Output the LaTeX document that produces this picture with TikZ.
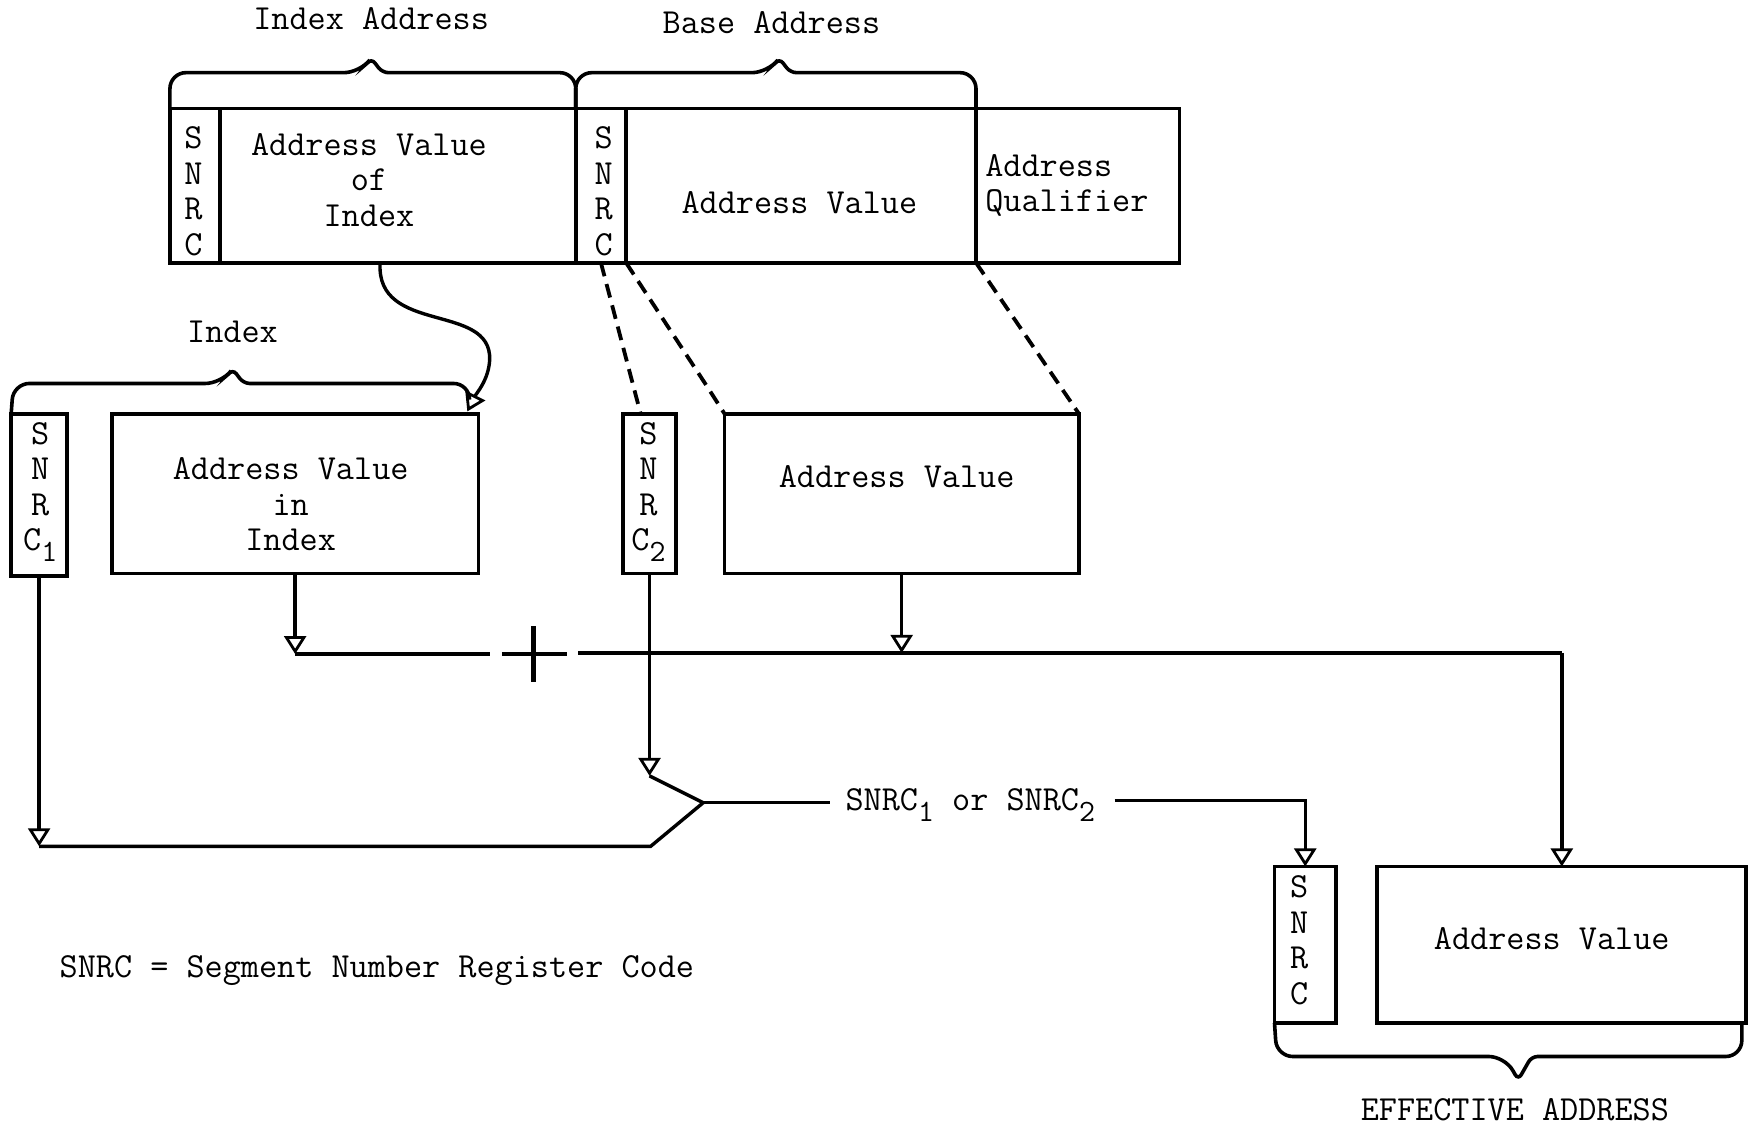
\documentclass[tikz,border=0pt]{standalone}
\usetikzlibrary{fit,arrows.meta}
\newcommand\sbx[1]{\raisebox{-5.5pt}{\fontsize{15.5}{15.5}\selectfont #1}}
\begin{document}
\begin{tikzpicture}[x=0.559pt,y=-0.559pt,
  box/.style={draw,line width=1.9pt,inner sep=0pt,outer sep=0pt},
  txt/.style={font=\fontsize{17.6}{17.7}\selectfont\ttfamily,inner sep=0pt,align=center},
  conn/.style={line width=1.7pt},
  tip/.style={-{Triangle[open,width=11pt,length=9pt,line width=1.4pt]}},
  brc/.style={line width=1.8pt},
  dsh/.style={line width=1.9pt,dash pattern=on 7pt off 4pt}]
\useasboundingbox[fill=white] (0,0) rectangle (1568,1008);

% top row
\node[box,fit={(152,97)(197,235)}] (t1) {};
\node[box,fit={(197,97)(515,235)}] (t2) {};
\node[box,fit={(515,97)(560,235)}] (t3) {};
\node[box,fit={(560,97)(873,235)}] (t4) {};
\node[box,fit={(873,97)(1055,235)}] (t5) {};
\node[txt] (t1x) at (173,171) {S\\N\\R\\C};
\node[txt] (t2x) at (330,161) {Address Value\\of\\Index};
\node[txt] (t3x) at (540,171) {S\\N\\R\\C};
\node[txt] (t4x) at (715,181) {Address Value};
\node[txt,align=left,anchor=west] (t5x) at (881,166) {Address\\Qualifier};

\node[txt] (lia) at (332,17) {Index Address};
\node[txt] (lba) at (690,20) {Base Address};

% top braces
\draw[brc] (t1.north west) [rounded corners=8pt] -- (152,65) -- (322,65) [rounded corners=3pt] -- (332,52) -- (342,65) [rounded corners=8pt] -- (515,65) [sharp corners] -- (t2.north east);
\draw[brc] (t3.north west) [rounded corners=8pt] -- (515,65) -- (687,65) [rounded corners=3pt] -- (697,52) -- (707,65) [rounded corners=8pt] -- (873,65) [sharp corners] -- (t4.north east);

% second row
\node[box,fit={(10,370)(60,515)}] (s1) {};
\node[box,fit={(100,370)(428,513)}] (m1) {};
\node[box,fit={(557,370)(605,513)}] (s2) {};
\node[box,fit={(648,370)(965,513)}] (m2) {};
\node[txt] (s1x) at (36,440) {S\\N\\R\\C\sbx{1}};
\node[txt] (m1x) at (260,451) {Address Value\\in\\Index};
\node[txt] (s2x) at (580,440) {S\\N\\R\\C\sbx{2}};
\node[txt] (m2x) at (802,426) {Address Value};

\node[txt] (lix) at (208,297) {Index};
\draw[brc] (s1.north west) [rounded corners=8pt] -- (12,343) -- (198,343) [rounded corners=3pt] -- (208,330) -- (218,343) [rounded corners=8pt] -- (420,343) [sharp corners] -- (420,357);

% curved arrow from index address to index
\coordinate (cs) at (340,235);
\coordinate (ct) at (418,368);
\draw[conn,tip] (cs) .. controls (336,300) and (440,270) .. (438,322) .. controls (437,340) and (426,352) .. (ct);

% dashed projections
\coordinate (d1e) at (573,370);
\draw[dsh] (t3.south) -- (d1e);
\draw[dsh] (t3.south east) -- (632,345) -- (m2.north west);
\draw[dsh] (t4.south east) -- (m2.north east);

% effective address boxes
\node[box,fit={(1140,775)(1195,915)}] (s3) {};
\node[box,fit={(1232,775)(1562,915)}] (m3) {};
\node[txt] (s3x) at (1162,841) {S\\N\\R\\C};
\node[txt] (m3x) at (1388,840) {Address Value};

% adder
\coordinate (aL) at (264,585);
\coordinate (aLe) at (438,585);
\coordinate (aRs) at (517,584);
\coordinate (aR) at (1397,584);
\draw[conn,tip] (m1.south) -- (aL);
\draw[conn] (aL) -- (aLe);
\draw[conn] (aRs) -- (aR);
\draw[conn,tip] (m2.south) -- (m2.south |- aR);
\draw[line width=2.4pt] (449,585) -- (507,585);
\draw[line width=2.4pt] (477,560) -- (477,610);

% segment choice
\coordinate (j) at (629,718);
\coordinate (s2t) at (581,694);
\coordinate (b1) at (35,757);
\coordinate (b2) at (582,757);
\draw[conn,tip] (s2.south) -- (s2t);
\draw[conn] (s2t) -- (j);
\draw[conn,tip] (s1.south) -- (b1);
\draw[conn] (b1) -- (b2) -- (j);
\node[txt,anchor=west] (orx) at (756,720) {SNRC\sbx{1} or SNRC\sbx{2}};
\draw[conn] (j) -- (742,718);
\coordinate (ore) at (997,716);

\draw[conn,tip] (ore) -| (s3.north);
\draw[conn,tip] (aR) -- (m3.north);

\draw[brc] (s3.south west) [rounded corners=8pt] -- (1142,945) -- (1346,945) [rounded corners=3pt] -- (1358,966) -- (1370,945) [rounded corners=8pt] -- (1558,945) [sharp corners] -- (1558,915);
\node[txt] (eff) at (1355,993) {EFFECTIVE ADDRESS};

\node[txt,anchor=west] (leg) at (53,868) {SNRC = Segment Number Register Code};
\end{tikzpicture}
\end{document}
